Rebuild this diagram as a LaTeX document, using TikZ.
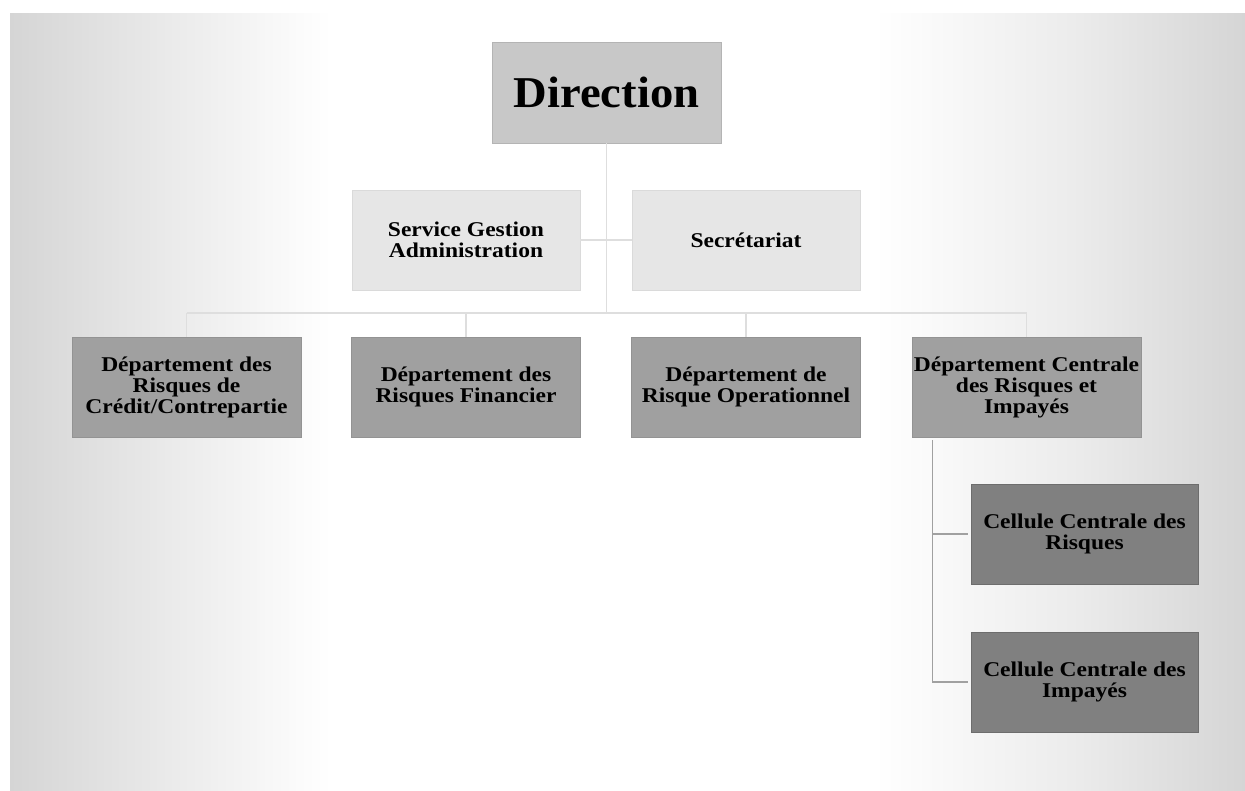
\documentclass[tikz,border=0pt]{standalone}
\usepackage{fontspec}
\setmainfont{Liberation Serif}[FakeStretch=1.12]
\newfontfamily\dirfont{Liberation Serif}[FakeStretch=1.06]
\usetikzlibrary{calc}
\definecolor{bgedge}{RGB}{213,213,213}
\definecolor{bgmid}{RGB}{236,236,236}
\definecolor{dirfill}{RGB}{200,200,200}
\definecolor{asfill}{RGB}{230,230,230}
\definecolor{depfill}{RGB}{160,160,160}
\definecolor{celfill}{RGB}{128,128,128}
\definecolor{lineA}{RGB}{222,222,222}
\definecolor{lineB}{RGB}{160,160,160}
\pgfdeclarehorizontalshading{bgshade}{100bp}{color(0bp)=(bgedge); color(25bp)=(bgedge); color(32bp)=(bgmid); color(38bp)=(white); color(60bp)=(white); color(68bp)=(bgmid); color(75bp)=(bgedge); color(100bp)=(bgedge)}
\tikzset{
  orgbox/.style={rectangle, inner sep=0pt, align=center, font=\bfseries\fontsize{21}{21}\selectfont, text=black},
  dirbox/.style={orgbox, fill=dirfill, draw=dirfill!90!black, line width=0.8pt, minimum width=229pt, minimum height=101pt, font=\dirfont\bfseries\fontsize{44}{44}\selectfont},
  asbox/.style={orgbox, fill=asfill, draw=asfill!95!black, line width=0.8pt, minimum width=228pt, minimum height=100pt},
  depbox/.style={orgbox, fill=depfill, draw=depfill!92!black, line width=0.8pt, minimum width=229pt, minimum height=100pt},
  celbox/.style={orgbox, fill=celfill, draw=celfill!85!black, line width=0.8pt, minimum width=227pt, minimum height=100pt},
  linkA/.style={draw=lineA, line width=1.2pt},
  linkB/.style={draw=lineB, line width=1.2pt}
}
\begin{document}
\begin{tikzpicture}[x=1pt,y=-1pt]
\useasboundingbox (0,0) rectangle (1245,790);
\fill[white] (0,0) rectangle (1245,790);
\shade[shading=bgshade] (10,13) rectangle (1245,790);

\node[dirbox] (dir) at (606.5,92.5) {Direction};
\node[asbox] (sga) at (466,240) {Service Gestion\\Administration};
\node[asbox] (sec) at (746,240) {Secrétariat};

\node[depbox] (d1) at (186.5,387) {Département des\\Risques de\\Crédit/Contrepartie};
\node[depbox] (d2) at (466,387) {Département des\\Risques Financier};
\node[depbox] (d3) at (746,387) {Département de\\Risque Operationnel};
\node[depbox] (d4) at (1026.5,387) {Département Centrale\\des Risques et\\Impayés};

\node[celbox] (c1) at (1084.5,534) {Cellule Centrale des\\Risques};
\node[celbox] (c2) at (1084.5,682) {Cellule Centrale des\\Impayés};

\coordinate (bus) at (606.5,313);
\coordinate (cel) at ($(d4.south west)+(21,3)$);

\draw[linkA] (sga.east) -- (sec.west);
\draw[linkA] (dir.south) -- (bus);
\draw[linkA] (d1.north |- bus) -- (d4.north |- bus);
\draw[linkA] (d1.north |- bus) -- (d1.north);
\draw[linkA] (d2.north |- bus) -- (d2.north);
\draw[linkA] (d3.north |- bus) -- (d3.north);
\draw[linkA] (d4.north |- bus) -- (d4.north);

\draw[linkB] (cel) |- ($(c1.west)+(-3,0)$);
\draw[linkB] (cel) |- ($(c2.west)+(-3,0)$);
\end{tikzpicture}
\end{document}
